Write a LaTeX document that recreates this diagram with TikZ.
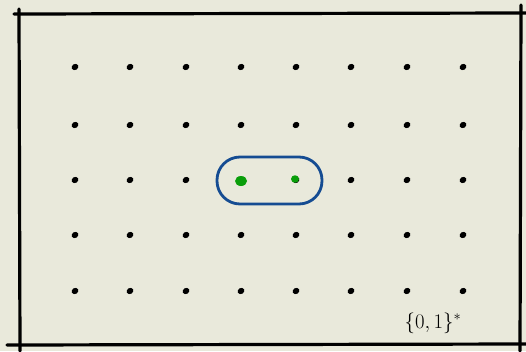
\documentclass[tikz,border=0pt]{standalone}
\usetikzlibrary{shapes.geometric}
\definecolor{bg}{HTML}{E9E9DB}
\definecolor{capblue}{HTML}{154C92}
\definecolor{dotgreen}{HTML}{0A9E0A}
\begin{document}
\begin{tikzpicture}[x=1pt,y=-1pt,
  frame/.style={line width=3.2pt,line cap=round},
  gdot/.style={ellipse,fill=black,inner sep=0pt,minimum width=7pt,minimum height=6pt,rotate=30},
  greendot/.style={ellipse,fill=dotgreen,inner sep=0pt},
  capsule/.style={draw=capblue,line width=2.8pt,rounded corners=23pt,minimum width=105pt,minimum height=47pt,inner sep=0pt}]
\fill[bg] (0,0) rectangle (526,351);
\useasboundingbox (0,0) rectangle (526,351);
% frame
\coordinate (tl) at (14,14);
\coordinate (tr) at (526,13);
\coordinate (ltop) at (19,9);
\coordinate (lbot) at (20,351);
\coordinate (rtop) at (521,5);
\coordinate (rbot) at (520,351);
\coordinate (bl) at (7,345);
\coordinate (br) at (526,344);
\draw[frame] (tl) -- (tr);
\draw[frame] (ltop) -- (lbot);
\draw[frame] (rtop) -- (rbot);
\draw[frame] (bl) -- (br);
% grid of dots
\foreach \x [count=\i] in {75,130,186,241,296,351,407,463}{
  \foreach \y [count=\j] in {67,125,180,235,291}{
    \node[gdot] (d\i\j) at (\x,\y) {};
  }
}
% green dots over the middle pair
\node[greendot,minimum width=12pt,minimum height=10pt] (g1) at (241,181) {};
\node[greendot,minimum width=8pt,minimum height=7.5pt] (g2) at (295,179) {};
% capsule
\node[capsule] (cap) at (269.5,180.5) {};
% label
\node[font=\fontsize{22}{26}\selectfont] (lab) at (433,323) {$\{0,1\}^{*}$};
\end{tikzpicture}
\end{document}
